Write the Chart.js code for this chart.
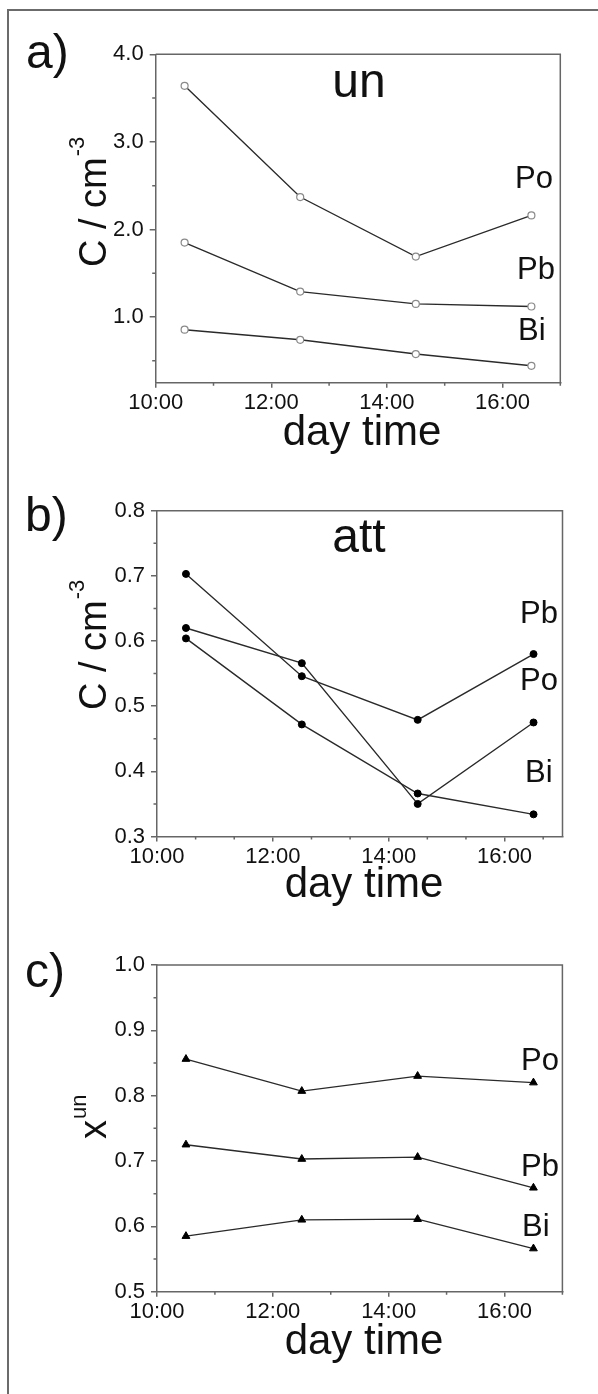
<!DOCTYPE html>
<html>
<head>
<meta charset="utf-8">
<script src="https://cdn.jsdelivr.net/npm/chart.js@4.4.1/dist/chart.umd.min.js"></script>
<style>
html,body{margin:0;padding:0;background:#fff;}
#wrap{position:relative;width:598px;height:1394px;overflow:hidden;background:#fff;}
#frame{position:absolute;left:7px;top:9px;width:620px;height:1420px;border-left:2px solid #6b6b6b;border-top:2px solid #6b6b6b;}
canvas{position:absolute;left:0;}
</style>
</head>
<body>
<div id="wrap">
  <div id="frame"></div>
  <canvas id="ca" width="598" height="460" style="top:0px"></canvas>
  <canvas id="cb" width="598" height="460" style="top:460px"></canvas>
  <canvas id="cc" width="598" height="474" style="top:920px"></canvas>
</div>
<script>
// ---------- data ----------
const timesHours = [10.5, 12.5, 14.5, 16.5];          // 10:30, 12:30, 14:30, 16:30
const xTickHours = [10, 12, 14, 16];
const xTickLabels = ['10:00', '12:00', '14:00', '16:00'];

// a) un  (C / cm^-3)
const unPo = [3.64, 2.37, 1.69, 2.16];
const unPb = [1.85, 1.29, 1.15, 1.12];
const unBi = [0.855, 0.74, 0.577, 0.443];
const yTicksUn = [1.0, 2.0, 3.0, 4.0];

// b) att  (C / cm^-3)
const attPb = [0.703, 0.546, 0.479, 0.580];
const attPo = [0.620, 0.566, 0.350, 0.475];
const attBi = [0.604, 0.472, 0.366, 0.334];
const yTicksAtt = [0.3, 0.4, 0.5, 0.6, 0.7, 0.8];

// c) x^un
const xunPo = [0.856, 0.807, 0.830, 0.820];
const xunPb = [0.725, 0.703, 0.706, 0.659];
const xunBi = [0.585, 0.610, 0.611, 0.566];
const yTicksXun = [0.5, 0.6, 0.7, 0.8, 0.9, 1.0];

// ---------- styling ----------
const FONT = "'Liberation Sans', Arial, Helvetica, sans-serif";
const AXIS = '#666666';
const LINE = '#2a2a2a';
const TEXT = '#111111';
Chart.defaults.font.family = FONT;
Chart.defaults.color = TEXT;

function toPts(ys) { return timesHours.map((x, i) => ({ x: x, y: ys[i] })); }

function drawText(ctx, s, x, y, size, align) {
  ctx.font = size + 'px ' + FONT;
  ctx.textAlign = align || 'left';
  ctx.textBaseline = 'alphabetic';
  ctx.fillStyle = TEXT;
  ctx.fillText(s, x, y);
}

function makePanel(cfg) {
  const canvas = document.getElementById(cfg.id);
  const W = canvas.width, H = canvas.height;
  const ar = cfg.area;
  const plugin = {
    id: 'panel_' + cfg.id,
    afterDraw(chart) {
      const ctx = chart.ctx, ca = chart.chartArea;
      const xs = chart.scales.x, ys = chart.scales.y;
      ctx.save();
      ctx.strokeStyle = AXIS;
      ctx.lineWidth = 1.5;
      ctx.beginPath();
      ctx.moveTo(ca.left, ca.top); ctx.lineTo(ca.right, ca.top); ctx.lineTo(ca.right, ca.bottom);
      ctx.stroke();
      ctx.beginPath();
      cfg.xMinor.forEach(v => { const p = xs.getPixelForValue(v); ctx.moveTo(p, ca.bottom); ctx.lineTo(p, ca.bottom + 3); });
      cfg.yMinor.forEach(v => { const p = ys.getPixelForValue(v); ctx.moveTo(ca.left, p); ctx.lineTo(ca.left - 3.5, p); });
      ctx.stroke();
      cfg.texts.forEach(t => drawText(ctx, t.s, t.x, t.y, t.size, t.align));
      const yt = cfg.ytitle;
      ctx.translate(yt.x, yt.y);
      ctx.rotate(-Math.PI / 2);
      drawText(ctx, yt.main, 0, 0, yt.size, 'left');
      ctx.font = yt.size + 'px ' + FONT;
      const w = ctx.measureText(yt.main).width;
      drawText(ctx, yt.sup, w + 1, -yt.raise, yt.supSize, 'left');
      ctx.restore();
    }
  };
  const ds = cfg.series.map(s => ({
    data: toPts(s),
    borderColor: LINE,
    borderWidth: 1.4,
    tension: 0,
    fill: false,
    pointStyle: cfg.point.style,
    pointRadius: cfg.point.r,
    pointBackgroundColor: cfg.point.fill,
    pointBorderColor: cfg.point.stroke,
    pointBorderWidth: cfg.point.bw
  }));
  return new Chart(canvas, {
    type: 'line',
    data: { datasets: ds },
    plugins: [plugin],
    options: {
      responsive: false,
      animation: false,
      devicePixelRatio: 1,
      layout: { padding: { left: 0, right: W - ar.right, top: ar.top, bottom: 0 } },
      plugins: { legend: { display: false }, tooltip: { enabled: false } },
      scales: {
        x: {
          type: 'linear', min: 10, max: 17,
          afterBuildTicks: s => { s.ticks = xTickHours.map(v => ({ value: v })); },
          afterFit: s => { s.height = H - ar.bottom; },
          ticks: { callback: v => xTickLabels[xTickHours.indexOf(v)], font: { size: 22 }, color: TEXT, padding: 2, maxRotation: 0, autoSkip: false },
          grid: { drawOnChartArea: false, drawTicks: true, tickLength: 5, color: AXIS, lineWidth: 1.5 },
          border: { display: true, color: AXIS, width: 1.5 }
        },
        y: {
          type: 'linear', min: cfg.yMin, max: cfg.yMax,
          afterBuildTicks: s => { s.ticks = cfg.yTicks.map(v => ({ value: v })); },
          afterFit: s => { s.width = ar.left; },
          ticks: { callback: v => Number(v).toFixed(1), font: { size: 22 }, color: TEXT, padding: 6, autoSkip: false },
          grid: { drawOnChartArea: false, drawTicks: true, tickLength: 6, color: AXIS, lineWidth: 1.5 },
          border: { display: true, color: AXIS, width: 1.5 }
        }
      }
    }
  });
}

// a) un
makePanel({
  id: 'ca',
  area: { left: 155.7, right: 560.3, top: 54.3, bottom: 382.7 },
  yMin: 0.25, yMax: 4.0, yTicks: yTicksUn,
  yMinor: [0.5, 1.5, 2.5, 3.5], xMinor: [11, 13, 15, 17],
  series: [unPo, unPb, unBi],
  point: { style: 'circle', r: 3.5, fill: '#ffffff', stroke: '#8a8a8a', bw: 1.2 },
  texts: [
    { s: 'a)', x: 26, y: 68, size: 48 },
    { s: 'un', x: 359, y: 97, size: 48, align: 'center' },
    { s: 'Po', x: 515, y: 188, size: 31 },
    { s: 'Pb', x: 517, y: 279, size: 31 },
    { s: 'Bi', x: 518, y: 340, size: 31 },
    { s: 'day time', x: 362, y: 445, size: 42, align: 'center' }
  ],
  ytitle: { main: 'C / cm', sup: '-3', x: 106, y: 267, size: 38, supSize: 22, raise: 22 }
});

// b) att
makePanel({
  id: 'cb',
  area: { left: 157, right: 562.5, top: 50.7, bottom: 376.5 },
  yMin: 0.3, yMax: 0.8, yTicks: yTicksAtt,
  yMinor: [0.35, 0.45, 0.55, 0.65, 0.75],
  xMinor: [10 + 2/3, 11 + 1/3, 12 + 2/3, 13 + 1/3, 14 + 2/3, 15 + 1/3, 16 + 2/3],
  series: [attPb, attPo, attBi],
  point: { style: 'circle', r: 3.5, fill: '#000000', stroke: '#000000', bw: 1 },
  texts: [
    { s: 'b)', x: 25, y: 71, size: 48 },
    { s: 'att', x: 359, y: 92, size: 48, align: 'center' },
    { s: 'Pb', x: 520, y: 163, size: 31 },
    { s: 'Po', x: 520, y: 230, size: 31 },
    { s: 'Bi', x: 525, y: 322, size: 31 },
    { s: 'day time', x: 364, y: 437, size: 42, align: 'center' }
  ],
  ytitle: { main: 'C / cm', sup: '-3', x: 106, y: 250, size: 38, supSize: 22, raise: 22 }
});

// c) x^un
makePanel({
  id: 'cc',
  area: { left: 157, right: 562.4, top: 45, bottom: 371.7 },
  yMin: 0.5, yMax: 1.0, yTicks: yTicksXun,
  yMinor: [0.55, 0.65, 0.75, 0.85, 0.95], xMinor: [11, 13, 15, 17],
  series: [xunPo, xunPb, xunBi],
  point: { style: 'triangle', r: 4.5, fill: '#000000', stroke: '#000000', bw: 1 },
  texts: [
    { s: 'c)', x: 25, y: 67, size: 48 },
    { s: 'Po', x: 521, y: 150, size: 31 },
    { s: 'Pb', x: 521, y: 256, size: 31 },
    { s: 'Bi', x: 522, y: 316, size: 31 },
    { s: 'day time', x: 364, y: 434, size: 42, align: 'center' }
  ],
  ytitle: { main: 'x', sup: 'un', x: 106, y: 219, size: 38, supSize: 22, raise: 20 }
});
</script>
</body>
</html>
